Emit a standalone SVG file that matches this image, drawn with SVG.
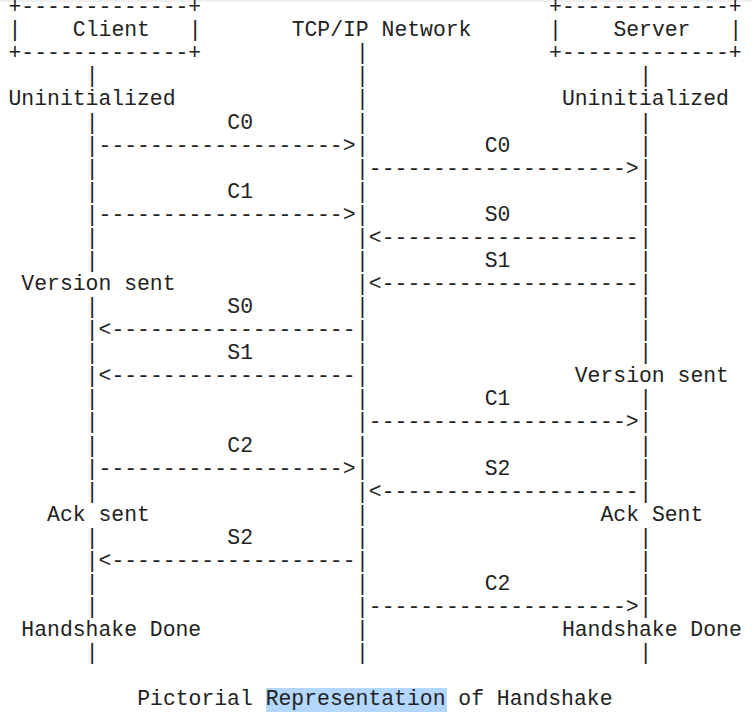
<svg xmlns="http://www.w3.org/2000/svg" width="752" height="718" viewBox="0 0 752 718">
<style>
text{font-family:"Liberation Mono","DejaVu Sans Mono",monospace;font-size:21.42px;fill:#222;white-space:pre}
</style>
<rect width="752" height="718" fill="#ffffff"/>
<rect width="752" height="2" fill="#f0f0f0"/>
<g id="client">
<text x="8.5" y="13.2">+-------------+</text>
<text x="8.5" y="36.27">|</text>
<text x="72.85" y="36.27">Client</text>
<text x="188.68" y="36.27">|</text>
<text x="8.5" y="59.34">+-------------+</text>
</g>
<g id="network">
<text x="291.64" y="36.27">TCP/IP Network</text>
</g>
<g id="server">
<text x="549.04" y="13.2">+-------------+</text>
<text x="549.04" y="36.27">|</text>
<text x="613.39" y="36.27">Server</text>
<text x="729.22" y="36.27">|</text>
<text x="549.04" y="59.34">+-------------+</text>
</g>
<g id="lifelines">
<text id="client-lifeline"><tspan x="85.72" y="82.41">|</tspan><tspan x="85.72" y="128.55">|</tspan><tspan x="85.72" y="151.62">|</tspan><tspan x="85.72" y="174.69">|</tspan><tspan x="85.72" y="197.76">|</tspan><tspan x="85.72" y="220.83">|</tspan><tspan x="85.72" y="243.9">|</tspan><tspan x="85.72" y="266.97">|</tspan><tspan x="85.72" y="313.11">|</tspan><tspan x="85.72" y="336.18">|</tspan><tspan x="85.72" y="359.25">|</tspan><tspan x="85.72" y="382.32">|</tspan><tspan x="85.72" y="405.39">|</tspan><tspan x="85.72" y="428.46">|</tspan><tspan x="85.72" y="451.53">|</tspan><tspan x="85.72" y="474.6">|</tspan><tspan x="85.72" y="497.67">|</tspan><tspan x="85.72" y="543.81">|</tspan><tspan x="85.72" y="566.88">|</tspan><tspan x="85.72" y="589.95">|</tspan><tspan x="85.72" y="613.02">|</tspan><tspan x="85.72" y="659.16">|</tspan></text>
<text id="network-lifeline"><tspan x="356" y="59.34">|</tspan><tspan x="356" y="82.41">|</tspan><tspan x="356" y="105.48">|</tspan><tspan x="356" y="128.55">|</tspan><tspan x="356" y="151.62">|</tspan><tspan x="356" y="174.69">|</tspan><tspan x="356" y="197.76">|</tspan><tspan x="356" y="220.83">|</tspan><tspan x="356" y="243.9">|</tspan><tspan x="356" y="266.97">|</tspan><tspan x="356" y="290.04">|</tspan><tspan x="356" y="313.11">|</tspan><tspan x="356" y="336.18">|</tspan><tspan x="356" y="359.25">|</tspan><tspan x="356" y="382.32">|</tspan><tspan x="356" y="405.39">|</tspan><tspan x="356" y="428.46">|</tspan><tspan x="356" y="451.53">|</tspan><tspan x="356" y="474.6">|</tspan><tspan x="356" y="497.67">|</tspan><tspan x="356" y="520.74">|</tspan><tspan x="356" y="543.81">|</tspan><tspan x="356" y="566.88">|</tspan><tspan x="356" y="589.95">|</tspan><tspan x="356" y="613.02">|</tspan><tspan x="356" y="636.09">|</tspan><tspan x="356" y="659.16">|</tspan></text>
<text id="server-lifeline"><tspan x="639.13" y="82.41">|</tspan><tspan x="639.13" y="128.55">|</tspan><tspan x="639.13" y="151.62">|</tspan><tspan x="639.13" y="174.69">|</tspan><tspan x="639.13" y="197.76">|</tspan><tspan x="639.13" y="220.83">|</tspan><tspan x="639.13" y="243.9">|</tspan><tspan x="639.13" y="266.97">|</tspan><tspan x="639.13" y="290.04">|</tspan><tspan x="639.13" y="313.11">|</tspan><tspan x="639.13" y="336.18">|</tspan><tspan x="639.13" y="359.25">|</tspan><tspan x="639.13" y="405.39">|</tspan><tspan x="639.13" y="428.46">|</tspan><tspan x="639.13" y="451.53">|</tspan><tspan x="639.13" y="474.6">|</tspan><tspan x="639.13" y="497.67">|</tspan><tspan x="639.13" y="543.81">|</tspan><tspan x="639.13" y="566.88">|</tspan><tspan x="639.13" y="589.95">|</tspan><tspan x="639.13" y="613.02">|</tspan><tspan x="639.13" y="659.16">|</tspan></text>
</g>
<g id="states">
<text x="8.5" y="105.48">Uninitialized</text>
<text x="561.91" y="105.48">Uninitialized</text>
<text x="21.37" y="290.04">Version sent</text>
<text x="574.78" y="382.32">Version sent</text>
<text x="47.11" y="520.74">Ack sent</text>
<text x="600.52" y="520.74">Ack Sent</text>
<text x="21.37" y="636.09">Handshake Done</text>
<text x="561.91" y="636.09">Handshake Done</text>
</g>
<g id="connectors">
<text x="227.29" y="128.55">C0</text>
<text x="98.59" y="151.62">-------------------&gt;</text>
<text x="484.69" y="151.62">C0</text>
<text x="368.86" y="174.69">--------------------&gt;</text>
<text x="227.29" y="197.76">C1</text>
<text x="98.59" y="220.83">-------------------&gt;</text>
<text x="484.69" y="220.83">S0</text>
<text x="368.86" y="243.9">&lt;--------------------</text>
<text x="484.69" y="266.97">S1</text>
<text x="368.86" y="290.04">&lt;--------------------</text>
<text x="227.29" y="313.11">S0</text>
<text x="98.59" y="336.18">&lt;-------------------</text>
<text x="227.29" y="359.25">S1</text>
<text x="98.59" y="382.32">&lt;-------------------</text>
<text x="484.69" y="405.39">C1</text>
<text x="368.86" y="428.46">--------------------&gt;</text>
<text x="227.29" y="451.53">C2</text>
<text x="98.59" y="474.6">-------------------&gt;</text>
<text x="484.69" y="474.6">S2</text>
<text x="368.86" y="497.67">&lt;--------------------</text>
<text x="227.29" y="543.81">S2</text>
<text x="98.59" y="566.88">&lt;-------------------</text>
<text x="484.69" y="589.95">C2</text>
<text x="368.86" y="613.02">--------------------&gt;</text>
</g>
<g id="caption">
<rect x="266" y="688" width="181" height="24" fill="#b3d7ff"/>
<text x="137.2" y="705.3">Pictorial Representation of Handshake</text>
</g>
</svg>
